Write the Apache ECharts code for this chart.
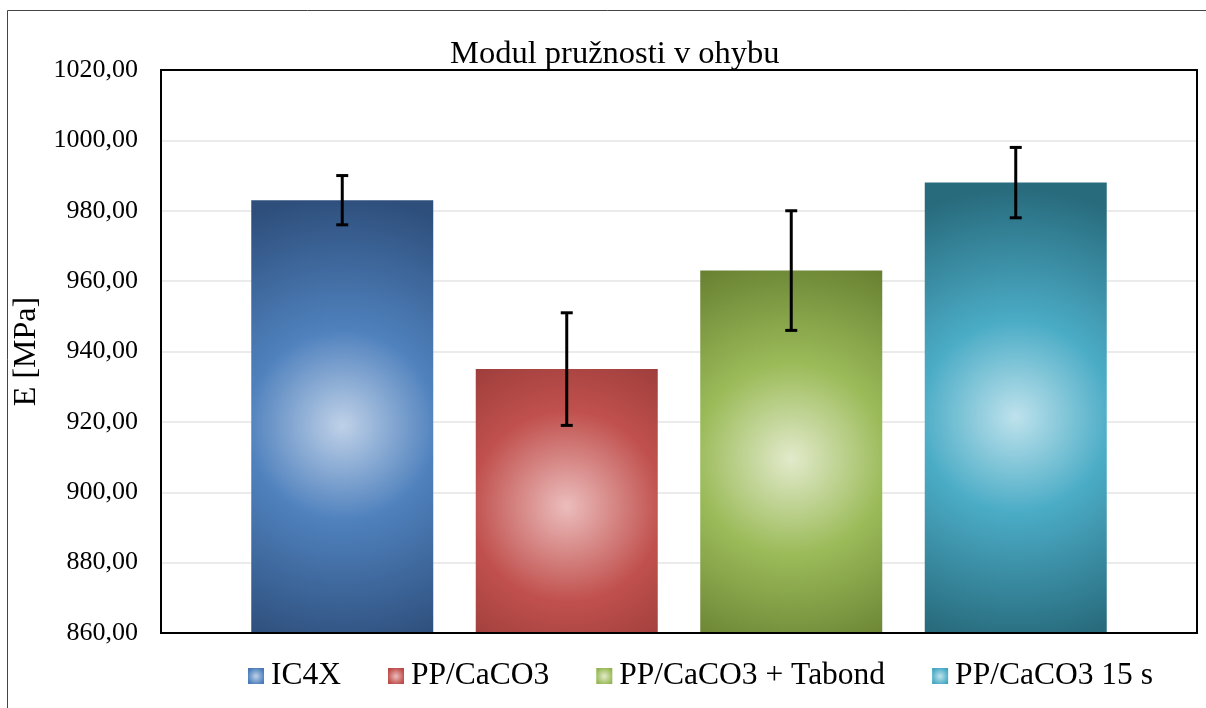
<!DOCTYPE html>
<html>
<head>
<meta charset="utf-8">
<title>Modul pružnosti v ohybu</title>
<script src="https://cdn.jsdelivr.net/npm/echarts@6/dist/echarts.min.js"></script>
<style>
  html, body {
    margin: 0;
    padding: 0;
    background: #fff;
  }

  #chart {
    width: 1206px;
    height: 708px;
  }
</style>
</head>
<body>
<!-- chart container -->
<div id="chart"></div>
<script>
// data
const categories = ['IC4X', 'PP/CaCO3', 'PP/CaCO3 + Tabond', 'PP/CaCO3 15 s']
const values = [983, 935, 963, 988]
const errors = [7, 16, 17, 10]
// y axis range
const yMin = 860
const yMax = 1020
const yStep = 20

// gradient colours per series: centre, middle, edge
const palettes = [
  ['#bfd1e8', '#4f81bd', '#2e4f7c'],
  ['#ebbdbc', '#c0504d', '#7f2e2c'],
  ['#e2eacb', '#9bbb59', '#5e762b'],
  ['#bee2ec', '#4bacc6', '#286b7d']
]

const serif = '"Liberation Serif", "Times New Roman", serif'

function barGradient(p) {
  return {
    type: 'radial',
    x: 0.5,
    y: 0.52,
    r: 1.25,
    colorStops: [
      {offset: 0, color: p[0]},
      {offset: 0.42, color: p[1]},
      {offset: 1, color: p[2]}
    ]
  }
}

// one series per bar so that the legend shows each one
const barSeries = categories.map((name, i) => ({
  name: name,
  type: 'bar',
  xAxisIndex: 1,
  yAxisIndex: 1,
  barWidth: 182,
  barGap: '-100%',
  itemStyle: {color: barGradient(palettes[i])},
  data: values.map((v, j) => (j === i ? v : '-'))
}))

// error bars: vertical line with caps
const errorSeries = {
  type: 'custom',
  xAxisIndex: 1,
  yAxisIndex: 1,
  z: 10,
  data: values.map((v, i) => [i, v - errors[i], v + errors[i]]),
  renderItem(params, api) {
    const lo = api.coord([api.value(0), api.value(1)])
    const hi = api.coord([api.value(0), api.value(2)])
    const cap = 6
    const style = {stroke: '#000', lineWidth: 3}
    return {
      type: 'group',
      children: [
        {type: 'line', shape: {x1: hi[0], y1: hi[1], x2: lo[0], y2: lo[1]}, style: style},
        {type: 'line', shape: {x1: hi[0] - cap, y1: hi[1], x2: hi[0] + cap, y2: hi[1]}, style: style},
        {type: 'line', shape: {x1: lo[0] - cap, y1: lo[1], x2: lo[0] + cap, y2: lo[1]}, style: style}
      ]
    }
  }
}

const chart = echarts.init(document.getElementById('chart'))
chart.setOption({
  animation: false,
  backgroundColor: '#fff',
  textStyle: {fontFamily: serif, color: '#000'},
  title: {
    text: 'Modul pružnosti v ohybu',
    left: 450,
    top: 38,
    padding: 0,
    textStyle: {fontFamily: serif, fontSize: 32.5, fontWeight: 'normal', color: '#000'}
  },
  legend: {
    data: categories,
    left: 248,
    top: 660,
    padding: 0,
    icon: 'rect',
    itemWidth: 16,
    itemHeight: 16,
    itemGap: 47,
    textStyle: {fontFamily: serif, fontSize: 31.5, color: '#000', padding: [0, 0, 0, 2]}
  },
  graphic: [
    {
      // outer frame of the picture
      type: 'rect',
      shape: {x: 7.5, y: 10.5, width: 1300, height: 800},
      style: {fill: 'none', stroke: '#444', lineWidth: 1},
      silent: true
    },
    {
      // black plot box, drawn over the gridlines
      type: 'rect',
      shape: {x: 161, y: 70, width: 1036, height: 563},
      style: {fill: 'none', stroke: '#000', lineWidth: 2},
      z: 100,
      silent: true
    }
  ],
  grid: [
    // plot box with the value axis and gridlines
    {left: 161, top: 70, width: 1036, height: 563},
    // slots for the bars
    {left: 230, top: 70, width: 898, height: 563}
  ],
  xAxis: [
    {gridIndex: 0, type: 'category', data: categories, show: false},
    {gridIndex: 1, type: 'category', data: categories, show: false}
  ],
  yAxis: [
    {
      gridIndex: 0,
      type: 'value',
      min: yMin,
      max: yMax,
      interval: yStep,
      name: 'E [MPa]',
      nameLocation: 'middle',
      nameGap: 117,
      nameTextStyle: {fontFamily: serif, fontSize: 32, color: '#000'},
      axisLine: {show: false},
      axisTick: {show: false},
      axisLabel: {
        fontFamily: serif,
        fontSize: 26,
        color: '#000',
        margin: 23,
        formatter: v => v.toFixed(2).replace('.', ',')
      },
      splitLine: {lineStyle: {color: '#ebebeb', width: 2}}
    },
    {gridIndex: 1, type: 'value', min: yMin, max: yMax, interval: yStep, show: false, splitLine: {show: false}}
  ],
  series: [...barSeries, errorSeries]
})
</script>
</body>
</html>
